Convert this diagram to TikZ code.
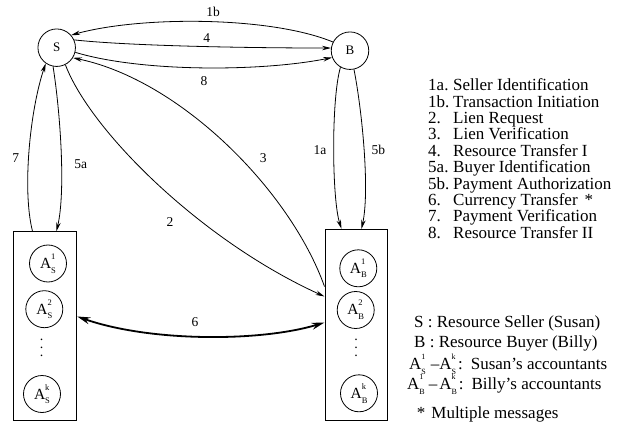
\documentclass[tikz,border=0pt]{standalone}
\usepackage{fontspec}
\setmainfont{Liberation Serif}
\usetikzlibrary{arrows.meta}
\newcommand\acc[3]{A\rlap{\raisebox{0.58em}{\fontsize{#3}{#3}\selectfont #1}}\raisebox{-0.3em}{\fontsize{#3}{#3}\selectfont #2}}
\newcommand\mydots{\vbox{\baselineskip8.3pt\lineskiplimit0pt\hbox{.}\hbox{.}\hbox{.}}}
\tikzset{
  ent/.style={circle,draw,line width=0.8pt,minimum size=37.5pt,inner sep=0pt,font=\fontsize{13}{13}\selectfont},
  accn/.style={circle,draw,line width=0.8pt,minimum size=37pt,inner sep=0pt,font=\fontsize{15.5}{15.5}\selectfont},
  grp/.style={draw,line width=1pt,inner sep=0pt},
  msg/.style={line width=0.8pt,-{Stealth[length=9pt,width=4.5pt]}},
  bigmsg/.style={line width=1.8pt,{Stealth[length=13pt,width=7pt]}-{Stealth[length=13pt,width=7pt]}},
  lbl/.style={font=\fontsize{13.5}{13.5}\selectfont,inner sep=0pt},
  leg/.style={font=\fontsize{17}{17}\selectfont,anchor=base west,inner sep=0pt}
}
\begin{document}
\begin{tikzpicture}[x=1pt,y=-1pt]
\useasboundingbox (0,0) rectangle (634,430);
% principals
\node[ent] (S) at (56.7,47.7) {S};
\node[ent] (B) at (350,50.7) {B};
% accountant groups
\node[grp,minimum width=63.4pt,minimum height=188.3pt] (SA) at (45,325.85) {};
\node[grp,minimum width=62.7pt,minimum height=190.7pt] (BA) at (356.35,324.65) {};
\node[accn] (AS1) at (48,263.5) {\acc{1}{S}{8.5}};
\node[accn] (AS2) at (44.3,309.2) {\acc{2}{S}{8.5}};
\node[inner sep=0pt,font=\fontsize{14}{14}\selectfont] (ASd) at (41.7,348) {\mydots};
\node[accn] (ASk) at (42,394) {\acc{k}{S}{8.5}};
\node[accn] (AB1) at (358.3,268.3) {\acc{1}{B}{8.5}};
\node[accn] (AB2) at (355.7,310) {\acc{2}{B}{8.5}};
\node[inner sep=0pt,font=\fontsize{14}{14}\selectfont] (ABd) at (356,348) {\mydots};
\node[accn] (ABk) at (359,393.3) {\acc{k}{B}{8.5}};
% messages
\draw[msg] (B.153) .. controls (270,16) and (140,16) .. (S.41);
\draw[msg] (S.24) .. controls (130,46) and (250,48) .. (B.172);
\draw[msg] (S.-14) .. controls (140,72) and (260,72) .. (B.201);
\draw[msg] ([yshift=-57.7pt]BA.north west) .. controls (290,190) and (180,80) .. (S.-32);
\draw[msg] (S.-63) .. controls (90,130) and (200,240) .. ([yshift=-67.7pt]BA.north west);
\draw[msg] ([xshift=19.7pt]SA.north west) .. controls (22,190) and (30,110) .. (S.235);
\draw[msg] (S.259) .. controls (60,110) and (66,190) .. ([xshift=43.7pt]SA.north west);
\draw[msg] (B.240) .. controls (331,100) and (332,200) .. ([xshift=17pt]BA.north west);
\draw[msg] (B.282) .. controls (362,110) and (370,190) .. ([xshift=37pt]BA.north west);
\draw[bigmsg] ([yshift=-85.3pt]SA.north east) .. controls (150,342) and (260,342) .. ([yshift=-93.7pt]BA.north west);
% message labels
\node[lbl] (l1b) at (213,11.7) {1b};
\node[lbl] (l4) at (206.7,37.7) {4};
\node[lbl] (l8) at (204,81) {8};
\node[lbl] (l3) at (263.3,158.3) {3};
\node[lbl] (l7) at (15.7,158.3) {7};
\node[lbl] (l5a) at (80.7,164) {5a};
\node[lbl] (l1a) at (320,150) {1a};
\node[lbl] (l5b) at (378.3,150) {5b};
\node[lbl] (l2) at (170,221.7) {2};
\node[lbl] (l6) at (195,321.7) {6};
% legend of messages
\node[leg] (k1) at (428,90.7) {\makebox[25pt][l]{1a.}Seller Identification};
\node[leg] (k2) at (428,107.1) {\makebox[25pt][l]{1b.}Transaction Initiation};
\node[leg] (k3) at (428,123.5) {\makebox[25pt][l]{2.}Lien Request};
\node[leg] (k4) at (428,139.9) {\makebox[25pt][l]{3.}Lien Verification};
\node[leg] (k5) at (428,156.3) {\makebox[25pt][l]{4.}Resource Transfer I};
\node[leg] (k6) at (428,172.7) {\makebox[25pt][l]{5a.}Buyer Identification};
\node[leg] (k7) at (428,189.1) {\makebox[25pt][l]{5b.}Payment Authorization};
\node[leg] (k8) at (428,205.5) {\makebox[25pt][l]{6.}Currency Transfer\hspace{7pt}*};
\node[leg] (k9) at (428,221.9) {\makebox[25pt][l]{7.}Payment Verification};
\node[leg] (k10) at (428,238.3) {\makebox[25pt][l]{8.}Resource Transfer II};
% legend of parties
\node[leg] (p1) at (414,327.7) {S : Resource Seller (Susan)};
\node[leg] (p2) at (414,347.3) {B : Resource Buyer (Billy)};
\node[leg] (p3) at (409,369) {\acc{1}{S}{8}\hspace{5pt}–\acc{k}{S}{8}\hspace{2pt}:\hspace{8pt}Susan’s accountants};
\node[leg] (p4) at (407,389) {\acc{1}{B}{8}\hspace{4pt}–\hspace{2pt}\acc{k}{B}{8}\hspace{2pt}:\hspace{8pt}Billy’s accountants};
\node[leg] (p5) at (416.7,418.3) {*\hspace{6pt}Multiple messages};
\end{tikzpicture}
\end{document}
